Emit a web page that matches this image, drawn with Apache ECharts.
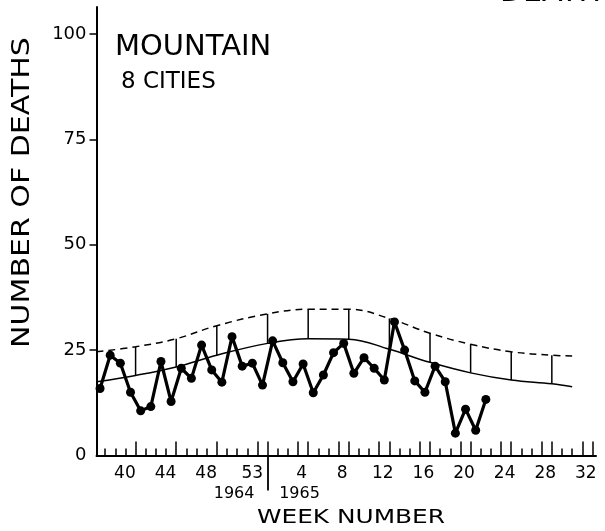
<!DOCTYPE html>
<html>
<head>
<meta charset="utf-8">
<script src="https://cdn.jsdelivr.net/npm/echarts@6/dist/echarts.min.js"></script>
<style>
  html, body { margin: 0; padding: 0; background: #fff; }
  #chart { width: 605px; height: 531px; }
</style>
</head>
<body>
<div id="chart"></div>
<script>
// ---- data ----
// weekly deaths, 1964 weeks 37..53 and 1965 weeks 1..22
const weeks1964 = [37, 38, 39, 40, 41, 42, 43, 44, 45, 46, 47, 48, 49, 50, 51, 52, 53];
const deaths1964 = [15.9, 23.8, 21.9, 15.0, 10.6, 11.6, 22.3, 12.8, 20.7, 18.3, 26.2, 20.3, 17.4, 28.2, 21.2, 21.9, 16.7];
const weeks1965 = [1, 2, 3, 4, 5, 6, 7, 8, 9, 10, 11, 12, 13, 14, 15, 16, 17, 18, 19, 20, 21, 22];
const deaths1965 = [27.2, 22.0, 17.5, 21.7, 14.9, 19.1, 24.4, 26.6, 19.5, 23.2, 20.7, 17.9, 31.7, 25.0, 17.7, 15.0, 21.2, 17.5, 5.3, 11.0, 6.0, 13.3];

// expected curve and upper limit, sampled at week-index positions (0 = week 37 of 1964)
const curveX = [-0.35, 3.5, 7.5, 11.5, 16.5, 20.5, 24.5, 28.5, 32.5, 36.5, 40.5, 44.5, 46.5];
const expected = [17.5, 19.0, 21.0, 23.8, 26.6, 27.7, 27.6, 25.2, 22.1, 19.6, 17.9, 17.0, 16.3];
const upperLimit = [24.6, 25.8, 27.7, 30.8, 33.6, 34.7, 34.7, 32.5, 29.0, 26.4, 24.6, 23.8, 23.6];

// tick labels
const tickWeeks1964 = [40, 44, 48, 53];
const tickWeeks1965 = [4, 8, 12, 16, 20, 24, 28, 32];
const yearLabels = ['1964', '1965'];
const yTickLabels = [0, 25, 50, 75, 100];

// ---- helpers ----
const FIRST_WEEK = 37;          // week index 0
const LAST_1964 = 53;
function idx1964(w) { return w - FIRST_WEEK; }
function idx1965(w) { return (LAST_1964 - FIRST_WEEK) + w; }
const yearBreak = idx1964(LAST_1964) + 0.5;

const observed = [];
weeks1964.forEach((w, i) => observed.push([idx1964(w), deaths1964[i]]));
weeks1965.forEach((w, i) => observed.push([idx1965(w), deaths1965[i]]));

const expData = curveX.map((x, i) => [x, expected[i]]);
const limData = curveX.map((x, i) => [x, upperLimit[i]]);
const barData = curveX.slice(1, curveX.length - 1).map((x, i) => [x, expected[i + 1], upperLimit[i + 1]]);

// label positions on the week axis
const labelMap = {};
const labelVals = [];
tickWeeks1964.forEach(w => {
  const v = idx1964(w) - (w === LAST_1964 ? 1.0 : 0.55);
  labelVals.push(v); labelMap[v.toFixed(3)] = String(w);
});
tickWeeks1965.forEach(w => {
  const v = idx1965(w) - 0.15;
  labelVals.push(v); labelMap[v.toFixed(3)] = String(w);
});
const yearVals = [yearBreak - 3.3, yearBreak + 3.15];
const yearMap = {};
yearVals.forEach((v, i) => { yearMap[v.toFixed(3)] = yearLabels[i]; });

const X_MIN = -0.35, X_MAX = 48.85;
const minorTicks = [];
for (let b = 0.5; b < X_MAX; b += 1) if (Math.abs(b - yearBreak) > 0.01) minorTicks.push(b);
const majorTicks = [];
for (let b = 3.5; b < X_MAX; b += 4) majorTicks.push(b);
for (let b = yearBreak + 4; b < X_MAX; b += 4) majorTicks.push(b);

const FONT = 'DejaVu Sans';
const INK = '#000';

function xAxisBase(extra) {
  return Object.assign({
    type: 'value', gridIndex: 0, position: 'bottom', min: X_MIN, max: X_MAX,
    splitLine: { show: false },
    axisLine: { show: false },
    axisTick: { show: false },
    axisLabel: { show: false }
  }, extra);
}

const chart = echarts.init(document.getElementById('chart'), null, { renderer: 'canvas' });
chart.setOption({
  animation: false,
  backgroundColor: '#fff',
  grid: { left: 96.5, right: 9, top: 7, bottom: 75.5, containLabel: false, outerBoundsMode: 'none' },
  xAxis: [
    xAxisBase({
      axisLine: { show: true, onZero: false, lineStyle: { color: INK, width: 2 } },
      axisTick: { show: true, inside: true, length: 7, customValues: minorTicks, lineStyle: { color: INK, width: 1.5 } },
      axisLabel: {
        show: true, customValues: labelVals, margin: 10, color: INK,
        fontFamily: FONT, fontSize: 17,
        formatter: v => labelMap[Number(v).toFixed(3)] || ''
      }
    }),
    xAxisBase({
      axisTick: { show: true, inside: true, length: 14, customValues: majorTicks.concat([yearBreak]), lineStyle: { color: INK, width: 1.5 } }
    }),
    xAxisBase({
      axisTick: { show: true, inside: false, length: 35, customValues: [yearBreak], lineStyle: { color: INK, width: 1.8 } },
      axisLabel: {
        show: true, customValues: yearVals, margin: 30, color: INK,
        fontFamily: FONT, fontSize: 16,
        formatter: v => yearMap[Number(v).toFixed(3)] || ''
      }
    })
  ],
  yAxis: {
    type: 'value', min: 0, max: 106.4,
    splitLine: { show: false },
    axisLine: { show: true, onZero: false, lineStyle: { color: INK, width: 2 } },
    axisTick: { show: true, inside: false, length: 7, customValues: [25, 50, 75, 100], lineStyle: { color: INK, width: 1.5 } },
    axisLabel: { show: true, customValues: yTickLabels, margin: 10, color: INK, fontFamily: FONT, fontSize: 18 }
  },
  graphic: [
    { type: 'text', left: 115, top: 33, style: { text: 'MOUNTAIN', fill: INK, font: '29px "DejaVu Sans"' } },
    { type: 'text', left: 121, top: 71, style: { text: '8 CITIES', fill: INK, font: '23px "DejaVu Sans"' } },
    { type: 'text', x: 22.5, y: 192.5, rotation: Math.PI / 2, scaleX: 1.2,
      style: { text: 'NUMBER OF DEATHS', fill: INK, font: '25px "DejaVu Sans"', align: 'center', verticalAlign: 'middle' } },
    { type: 'text', x: 351, y: 517.5, scaleX: 1.24,
      style: { text: 'WEEK NUMBER', fill: INK, font: '20px "DejaVu Sans"', align: 'center', verticalAlign: 'middle' } },
    { type: 'text', x: 500, y: -7,
      style: { text: 'DEATHS', fill: INK, font: '30px "DejaVu Sans"', align: 'left', verticalAlign: 'middle' } }
  ],
  series: [
    {
      name: 'Upper limit', type: 'line', data: limData, smooth: 0.4, symbol: 'none',
      lineStyle: { color: INK, width: 1.5, type: [7, 5] }, z: 2
    },
    {
      name: 'Expected', type: 'line', data: expData, smooth: 0.4, symbol: 'none',
      lineStyle: { color: INK, width: 1.5 }, z: 2
    },
    {
      name: 'Limit bars', type: 'custom', data: barData, z: 2,
      encode: { x: 0, y: [1, 2] },
      renderItem: (params, api) => {
        const p1 = api.coord([api.value(0), api.value(1)]);
        const p2 = api.coord([api.value(0), api.value(2)]);
        return { type: 'line', shape: { x1: p1[0], y1: p1[1], x2: p2[0], y2: p2[1] },
                 style: { stroke: INK, lineWidth: 1.5 } };
      }
    },
    {
      name: 'Deaths', type: 'line', data: observed, symbol: 'circle', symbolSize: 9,
      itemStyle: { color: INK }, lineStyle: { color: INK, width: 3.2 }, z: 5
    }
  ]
});
</script>
</body>
</html>
